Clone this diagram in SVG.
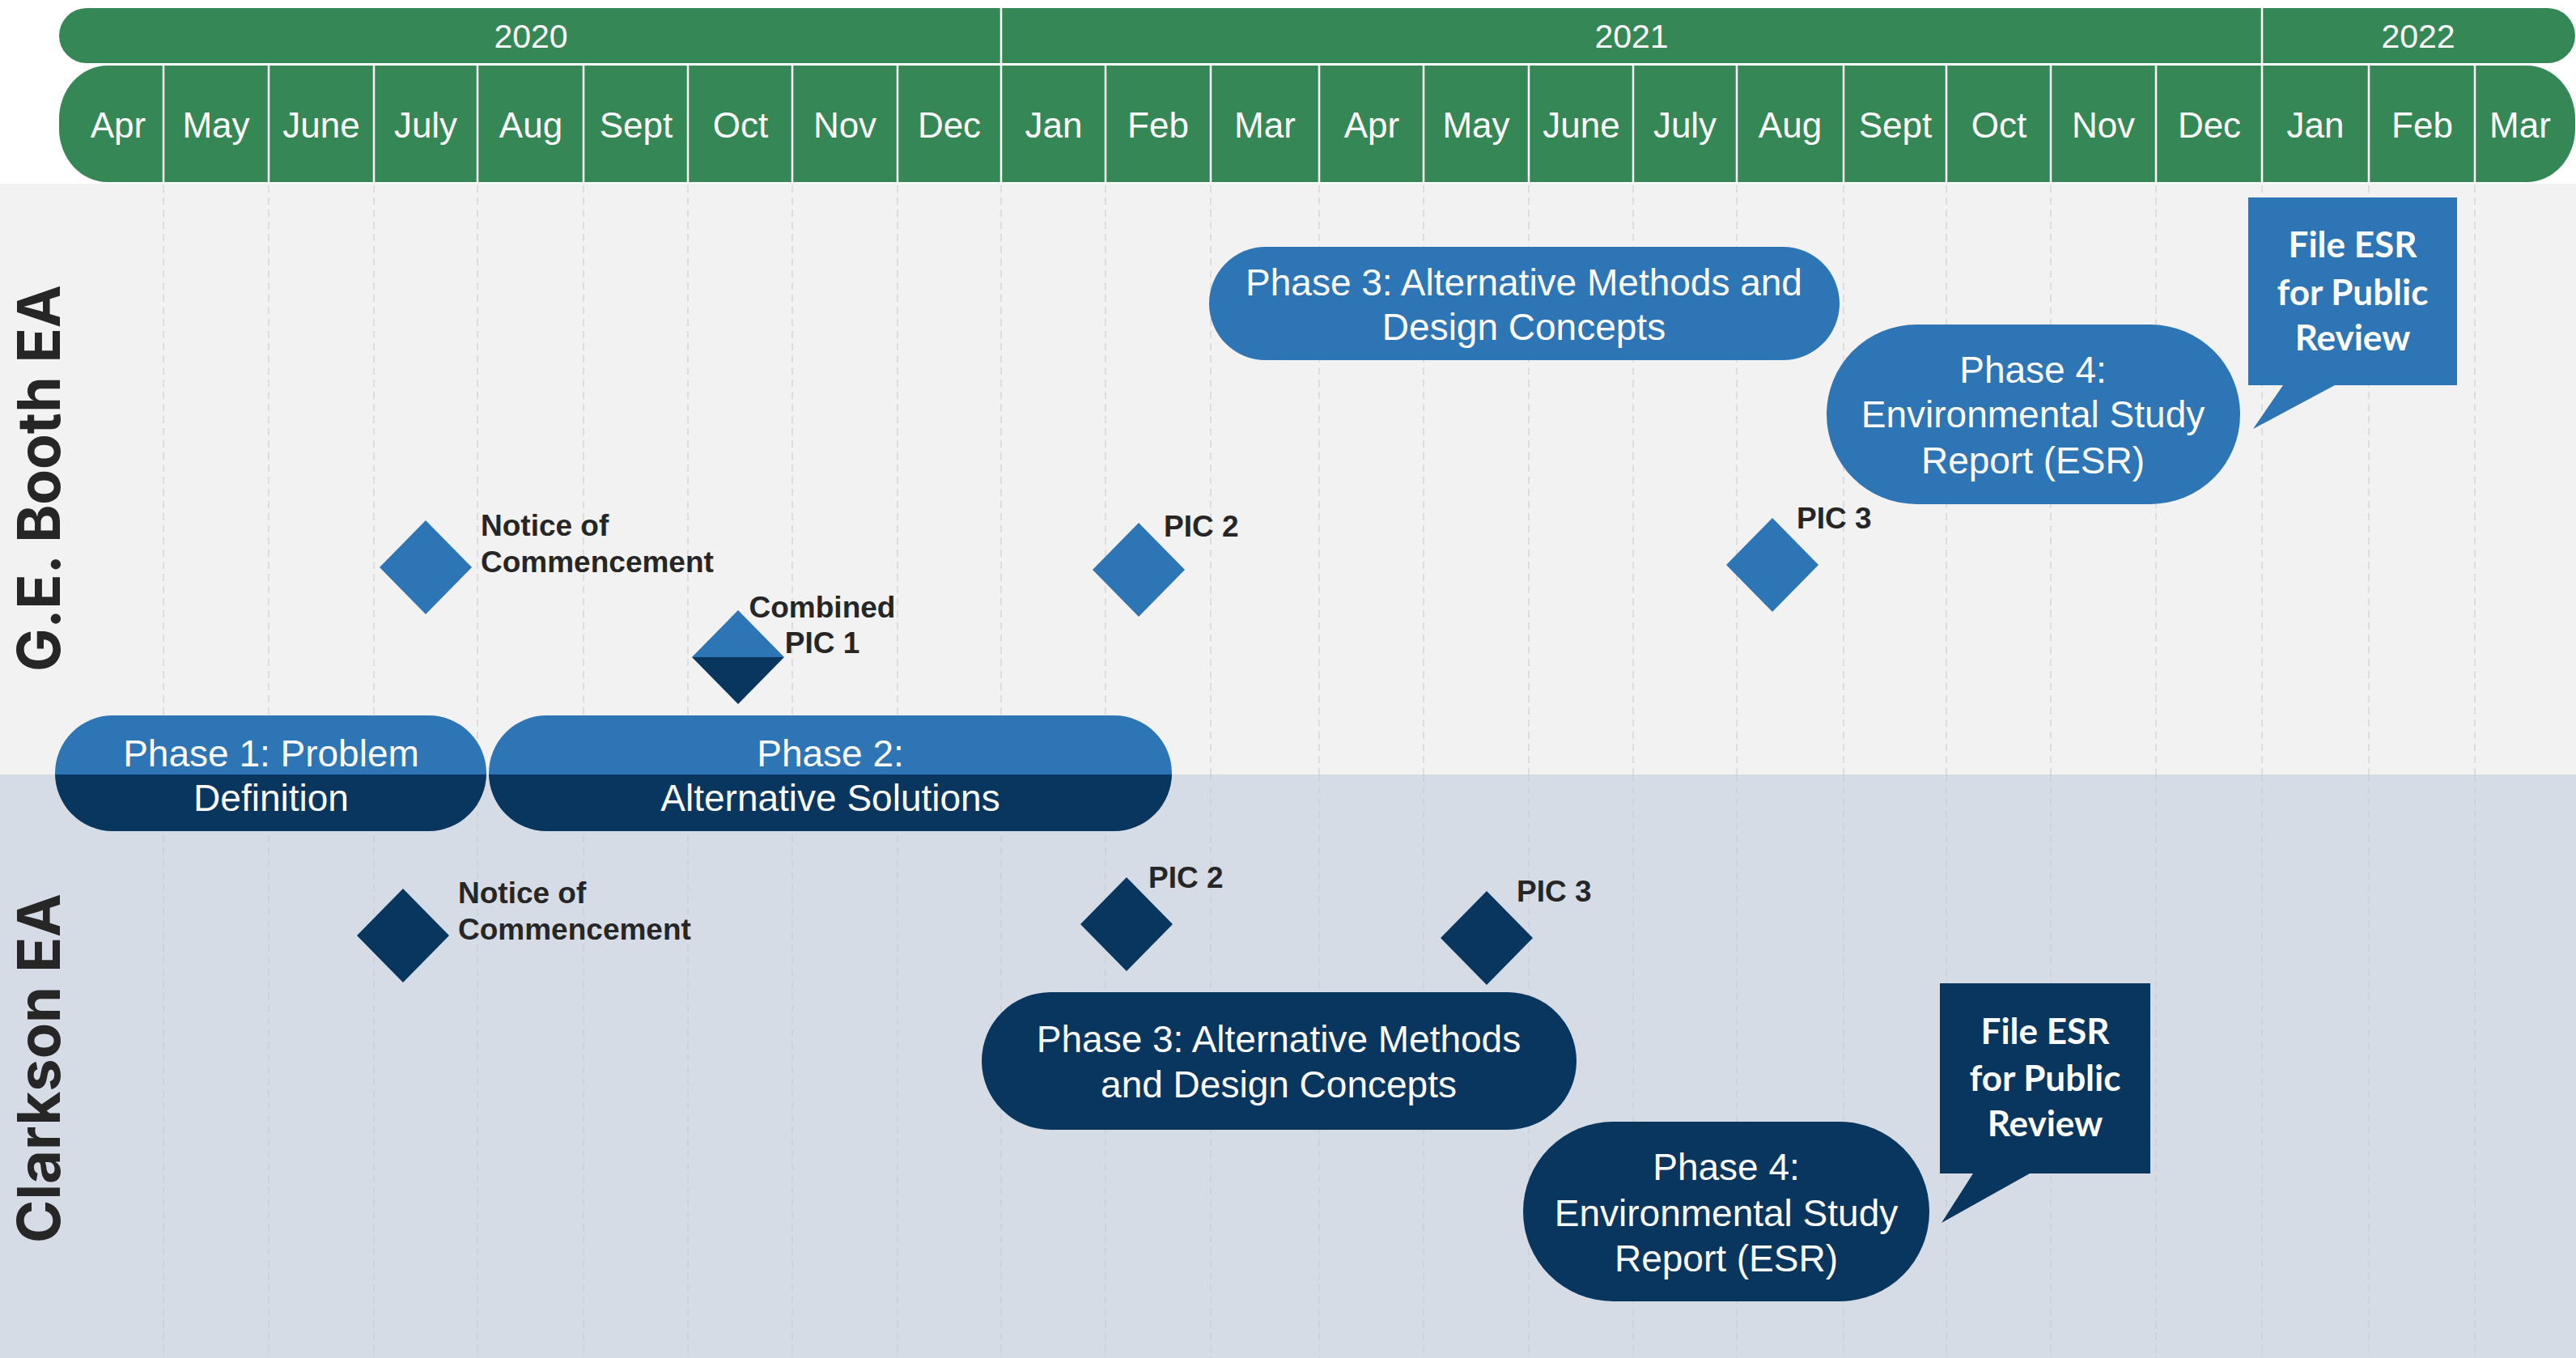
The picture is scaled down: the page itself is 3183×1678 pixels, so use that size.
<svg xmlns="http://www.w3.org/2000/svg" width="3183" height="1678" viewBox="0 0 3183 1678">
<style>
.hdr{fill:#358755}
.hdiv{stroke:#ffffff;stroke-width:2.5}
.yr{font-family:"Liberation Sans",Arial,sans-serif;font-size:41px;fill:#ffffff;text-anchor:middle}
.mo{font-family:"Liberation Sans",Arial,sans-serif;font-size:44px;fill:#ffffff;text-anchor:middle}
.grid{stroke:#d6d6d6;stroke-width:1.5;stroke-dasharray:9 6}
.gridl{stroke:#c8cfd8;stroke-width:1.5;stroke-dasharray:9 6}
.blue{fill:#2e75b6}
.dark{fill:#08365f}
.ph{font-family:"Liberation Sans",Arial,sans-serif;font-size:46px;fill:#ffffff;text-anchor:middle}
.lbl{font-family:"Liberation Sans",Arial,sans-serif;font-size:37px;font-weight:bold;fill:#262626}
.co{font-family:Lato,"Liberation Sans",sans-serif;font-size:44px;font-weight:bold;fill:#ffffff;text-anchor:middle}
.lane{font-family:Inter,"Liberation Sans",sans-serif;font-size:73px;font-weight:bold;fill:#262626;text-anchor:middle}
</style>
<defs>
<clipPath id="clipUp"><rect x="0" y="0" width="3183" height="957"/></clipPath>
<clipPath id="clipDown"><rect x="0" y="957" width="3183" height="721"/></clipPath>
</defs>
<rect x="0" y="0" width="3183" height="1678" fill="#ffffff"/>
<g id="lanes">
<rect x="0" y="227" width="3183" height="730" fill="#f2f2f2"/>
<rect x="0" y="957" width="3183" height="721" fill="#d6dce5"/>
<text class="lane" transform="translate(74 591) rotate(-90)" textLength="478" lengthAdjust="spacingAndGlyphs">G.E. Booth EA</text>
<text class="lane" transform="translate(74 1320) rotate(-90)" textLength="432" lengthAdjust="spacingAndGlyphs">Clarkson EA</text>
</g>
<g id="grid">
<path class="grid" d="M202 229V957M332 229V957M462 229V957M590 229V957M721 229V957M850 229V957M979 229V957M1109 229V957M1237 229V957M1366 229V957M1496 229V957M1630 229V957M1759 229V957M1889 229V957M2018 229V957M2146 229V957M2278 229V957M2405 229V957M2534 229V957M2664 229V957M2795 229V957M2927 229V957M3058 229V957"/>
<path class="gridl" d="M202 957V1678M332 957V1678M462 957V1678M590 957V1678M721 957V1678M850 957V1678M979 957V1678M1109 957V1678M1237 957V1678M1366 957V1678M1496 957V1678M1630 957V1678M1759 957V1678M1889 957V1678M2018 957V1678M2146 957V1678M2278 957V1678M2405 957V1678M2534 957V1678M2664 957V1678M2795 957V1678M2927 957V1678M3058 957V1678"/>
</g>
<g id="header">
<rect class="hdr" x="73" y="10" width="3109" height="68" rx="34" ry="34"/>
<rect class="hdr" x="73" y="81" width="3109" height="144" rx="60" ry="66"/>
<path class="hdiv" d="M1237 10V78M2795 10V78"/>
<path class="hdiv" d="M202 81V225M332 81V225M462 81V225M590 81V225M721 81V225M850 81V225M979 81V225M1109 81V225M1237 81V225M1366 81V225M1496 81V225M1630 81V225M1759 81V225M1889 81V225M2018 81V225M2146 81V225M2278 81V225M2405 81V225M2534 81V225M2664 81V225M2795 81V225M2927 81V225M3058 81V225"/>
<text class="yr" x="656" y="59">2020</text>
<text class="yr" x="2016" y="59">2021</text>
<text class="yr" x="2988" y="59">2022</text>
<text class="mo" x="146" y="170">Apr</text>
<text class="mo" x="267" y="170">May</text>
<text class="mo" x="397" y="170">June</text>
<text class="mo" x="526" y="170">July</text>
<text class="mo" x="656" y="170">Aug</text>
<text class="mo" x="786" y="170">Sept</text>
<text class="mo" x="915" y="170">Oct</text>
<text class="mo" x="1044" y="170">Nov</text>
<text class="mo" x="1173" y="170">Dec</text>
<text class="mo" x="1302" y="170">Jan</text>
<text class="mo" x="1431" y="170">Feb</text>
<text class="mo" x="1563" y="170">Mar</text>
<text class="mo" x="1695" y="170">Apr</text>
<text class="mo" x="1824" y="170">May</text>
<text class="mo" x="1954" y="170">June</text>
<text class="mo" x="2082" y="170">July</text>
<text class="mo" x="2212" y="170">Aug</text>
<text class="mo" x="2342" y="170">Sept</text>
<text class="mo" x="2470" y="170">Oct</text>
<text class="mo" x="2599" y="170">Nov</text>
<text class="mo" x="2730" y="170">Dec</text>
<text class="mo" x="2861" y="170">Jan</text>
<text class="mo" x="2993" y="170">Feb</text>
<text class="mo" x="3114" y="170">Mar</text>
</g>
<g id="phase1">
<rect class="blue" clip-path="url(#clipUp)" x="68" y="884" width="533" height="143" rx="71.5" ry="71.5"/>
<rect class="dark" clip-path="url(#clipDown)" x="68" y="884" width="533" height="143" rx="71.5" ry="71.5"/>
<text class="ph" x="335" y="947">Phase 1: Problem</text>
<text class="ph" x="335" y="1002">Definition</text>
</g>
<g id="phase2">
<rect class="blue" clip-path="url(#clipUp)" x="604" y="884" width="844" height="143" rx="71.5" ry="71.5"/>
<rect class="dark" clip-path="url(#clipDown)" x="604" y="884" width="844" height="143" rx="71.5" ry="71.5"/>
<text class="ph" x="1026" y="947">Phase 2:</text>
<text class="ph" x="1026" y="1002">Alternative Solutions</text>
</g>
<g id="booth-notice">
<polygon class="blue" points="526,643 583,701 526,759 469,701"/>
<text class="lbl" x="594" y="662">Notice of</text>
<text class="lbl" x="594" y="707">Commencement</text>
</g>
<g id="combined-pic1">
<polygon class="blue" points="855,812 912,754 969,812"/>
<polygon class="dark" points="855,812 969,812 912,870"/>
<text class="lbl" x="1016" y="763" text-anchor="middle">Combined</text>
<text class="lbl" x="1016" y="807" text-anchor="middle">PIC 1</text>
</g>
<g id="booth-pic2">
<polygon class="blue" points="1407,646 1464,704 1407,762 1350,704"/>
<text class="lbl" x="1438" y="663">PIC 2</text>
</g>
<g id="booth-pic3">
<polygon class="blue" points="2190,640 2247,698 2190,756 2133,698"/>
<text class="lbl" x="2220" y="653">PIC 3</text>
</g>
<g id="booth-phase3">
<rect class="blue" x="1494" y="305" width="779" height="140" rx="70" ry="70"/>
<text class="ph" x="1883" y="365">Phase 3: Alternative Methods and</text>
<text class="ph" x="1883" y="420">Design Concepts</text>
</g>
<g id="booth-phase4">
<rect class="blue" x="2257" y="401" width="511" height="222" rx="111" ry="111"/>
<text class="ph" x="2512" y="473">Phase 4:</text>
<text class="ph" x="2512" y="528">Environmental Study</text>
<text class="ph" x="2512" y="585">Report (ESR)</text>
</g>
<g id="booth-file-esr">
<path class="blue" d="M2778 244H3036V476H2885L2784 530L2821 476H2778Z"/>
<text class="co" x="2907" y="318">File ESR</text>
<text class="co" x="2907" y="377">for Public</text>
<text class="co" x="2907" y="433">Review</text>
</g>
<g id="clarkson-notice">
<polygon class="dark" points="498,1098 555,1156 498,1214 441,1156"/>
<text class="lbl" x="566" y="1116">Notice of</text>
<text class="lbl" x="566" y="1161">Commencement</text>
</g>
<g id="clarkson-pic2">
<polygon class="dark" points="1392,1084 1449,1142 1392,1200 1335,1142"/>
<text class="lbl" x="1419" y="1097">PIC 2</text>
</g>
<g id="clarkson-pic3">
<polygon class="dark" points="1837,1101 1894,1159 1837,1217 1780,1159"/>
<text class="lbl" x="1874" y="1114">PIC 3</text>
</g>
<g id="clarkson-phase3">
<rect class="dark" x="1213" y="1226" width="735" height="170" rx="85" ry="85"/>
<text class="ph" x="1580" y="1300">Phase 3: Alternative Methods</text>
<text class="ph" x="1580" y="1356">and Design Concepts</text>
</g>
<g id="clarkson-phase4">
<rect class="dark" x="1882" y="1386" width="502" height="222" rx="111" ry="111"/>
<text class="ph" x="2133" y="1458">Phase 4:</text>
<text class="ph" x="2133" y="1515">Environmental Study</text>
<text class="ph" x="2133" y="1571">Report (ESR)</text>
</g>
<g id="clarkson-file-esr">
<path class="dark" d="M2397 1215H2657V1450H2508L2399 1511L2438 1450H2397Z"/>
<text class="co" x="2527" y="1290">File ESR</text>
<text class="co" x="2527" y="1348">for Public</text>
<text class="co" x="2527" y="1404">Review</text>
</g>
<g id="connectors"></g>
</svg>
